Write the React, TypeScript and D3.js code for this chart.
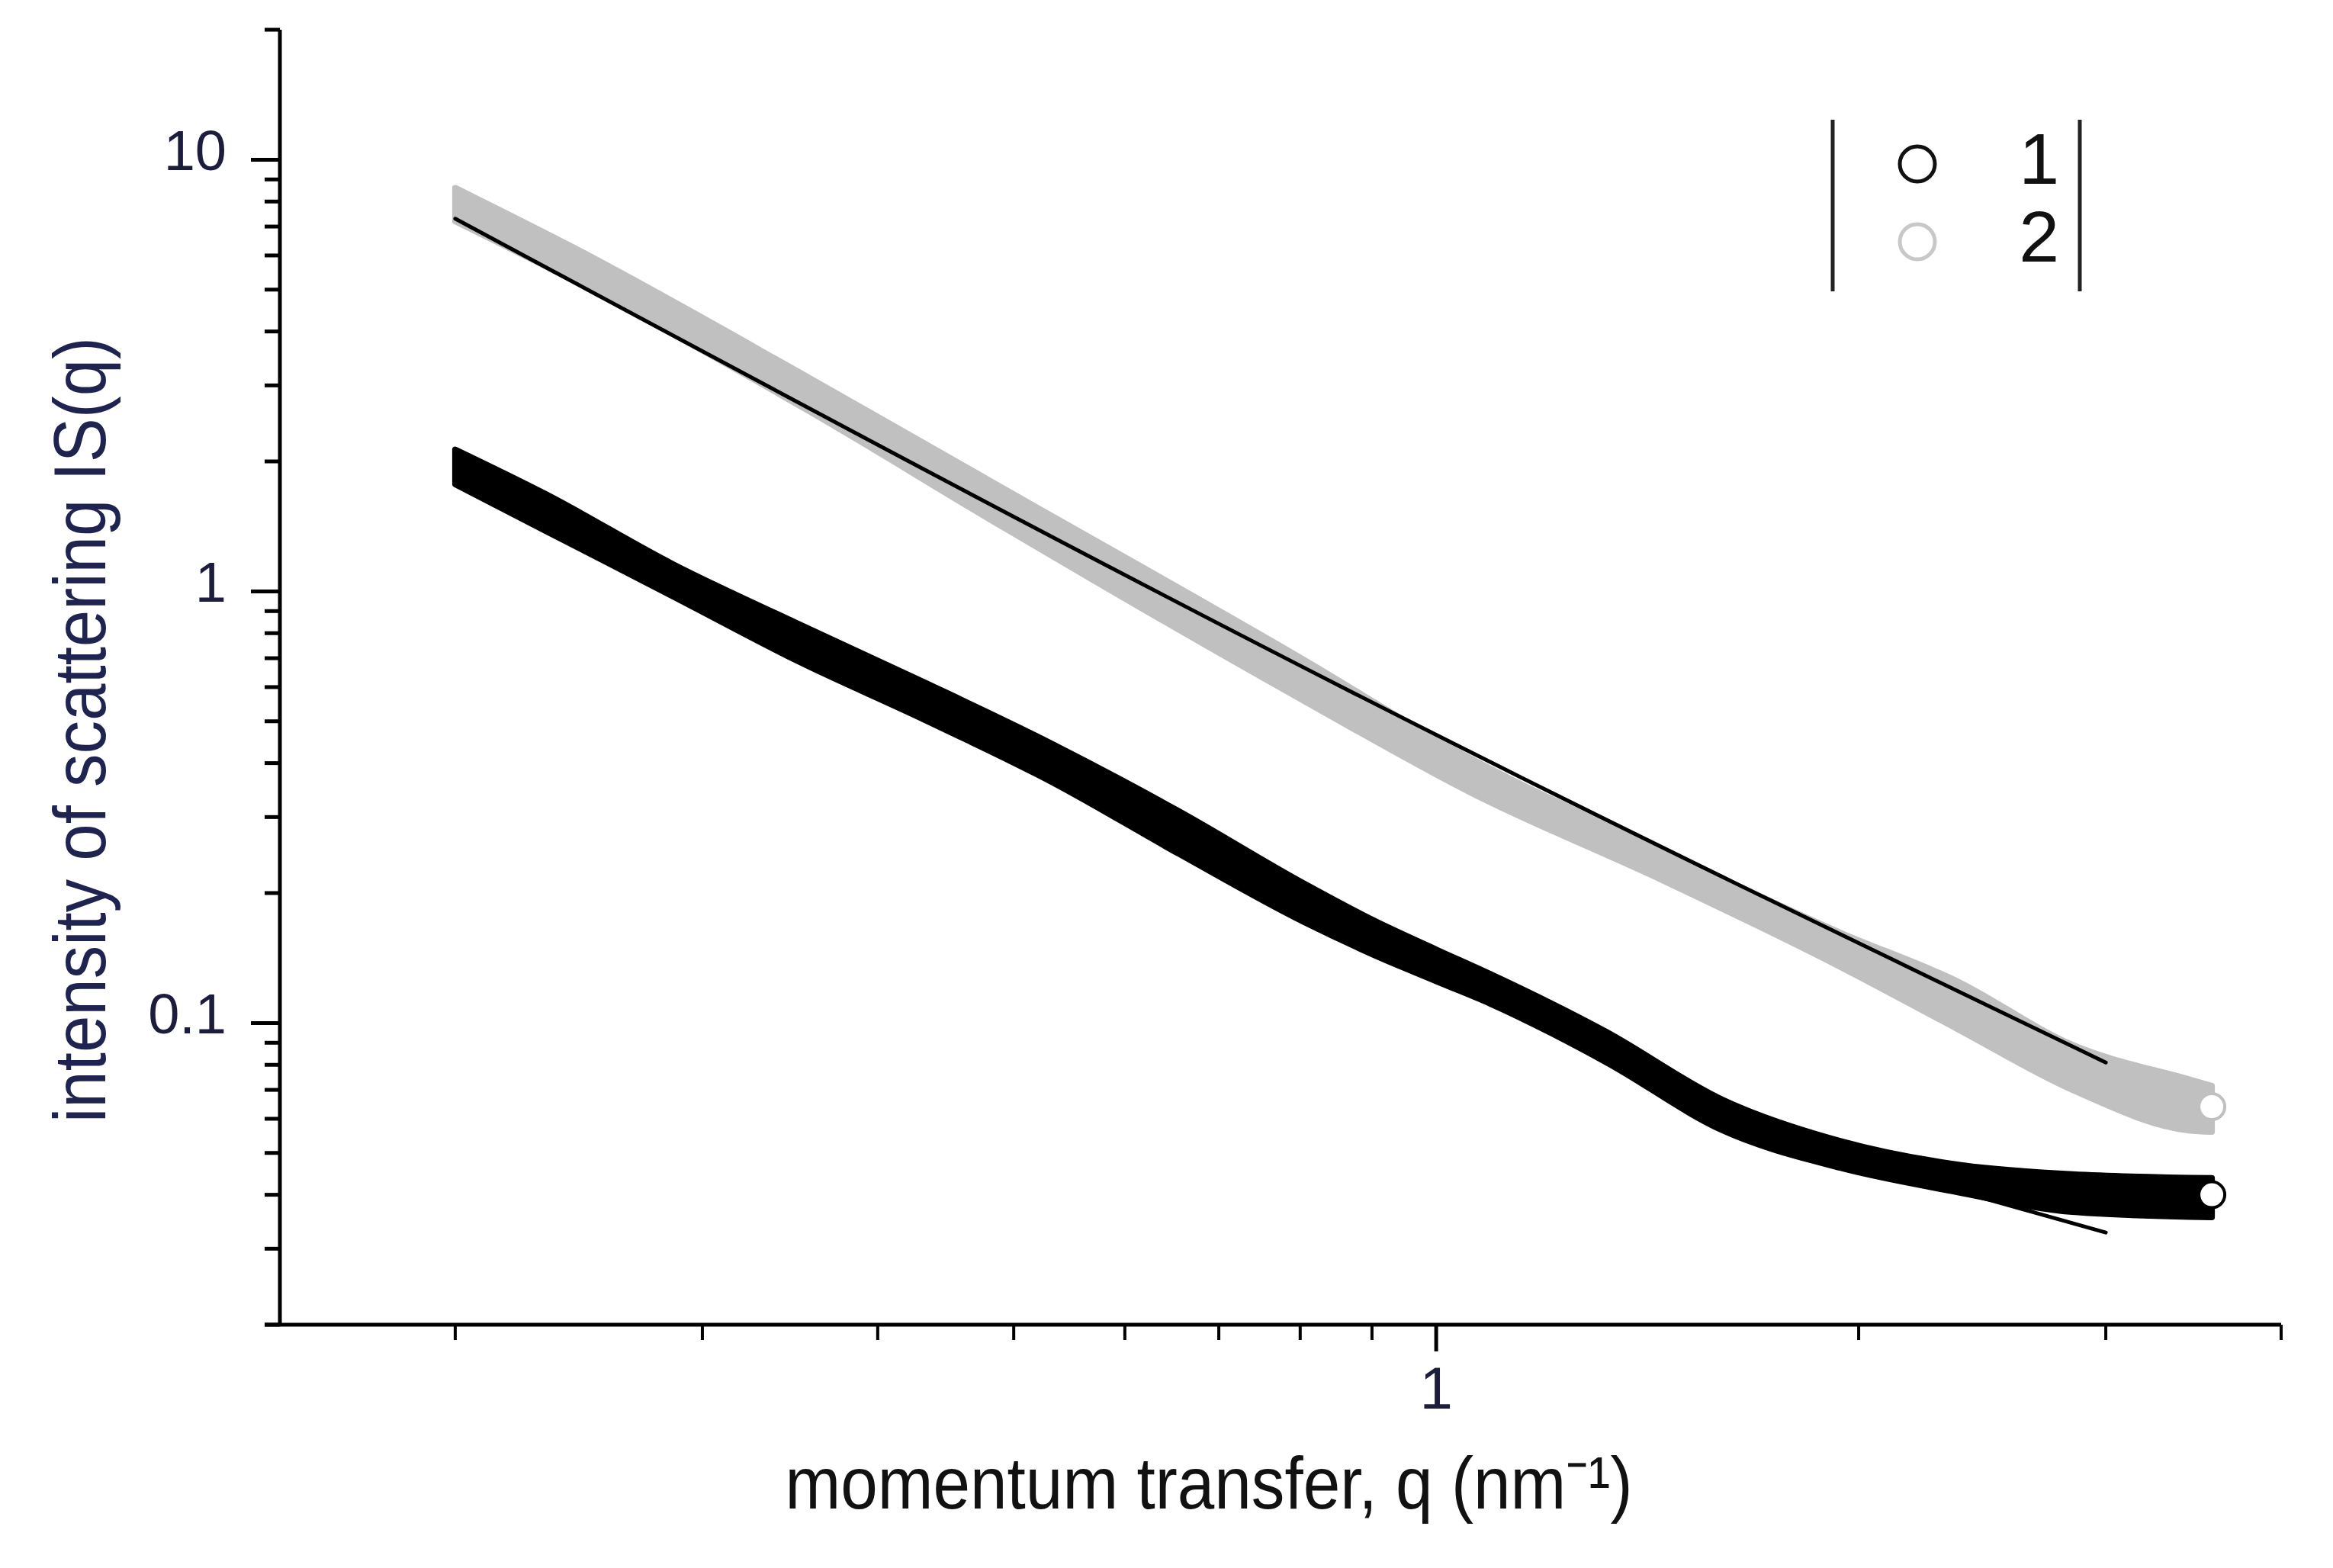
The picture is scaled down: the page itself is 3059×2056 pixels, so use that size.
import React from 'react';
import * as d3 from 'd3';

// series 1 (black): q (nm^-1) and the upper / lower edge of the dense marker band
const q1 = [0.2, 0.232, 0.286, 0.351, 0.432, 0.532, 0.655, 0.806, 0.902, 1.0, 1.092, 1.322, 1.6, 1.94, 2.35, 2.84, 3.57];
const upper1 = [2.13, 1.68, 1.155, 0.841, 0.615, 0.444, 0.31, 0.21, 0.173, 0.148, 0.13, 0.0954, 0.0664, 0.0533, 0.047, 0.0446, 0.0437];
const lower1 = [1.77, 1.38, 0.973, 0.689, 0.504, 0.362, 0.247, 0.171, 0.144, 0.125, 0.111, 0.0811, 0.0564, 0.0462, 0.0406, 0.0365, 0.0355];

// series 2 (grey)
const q2 = [0.2, 0.243, 0.357, 0.491, 0.796, 1.06, 1.455, 1.94, 2.35, 2.84, 3.44, 3.57];
const upper2 = [8.6, 6.25, 3.13, 1.735, 0.709, 0.409, 0.25, 0.162, 0.125, 0.089, 0.074, 0.0715];
const lower2 = [7.2, 5.24, 2.62, 1.41, 0.569, 0.341, 0.213, 0.135, 0.097, 0.07, 0.0564, 0.056];

// last measured point of each series (drawn as an open circle)
const lastQ = [3.57, 3.57];
const lastI = [0.04, 0.064];

// power-law fits
const fitQ1 = [1.6, 3.0];
const fitI1 = [0.058, 0.0327];
const fitQ2 = [0.2, 1.0, 3.0];
const fitI2 = [7.3, 0.465, 0.081];

const yMajor = [0.1, 1, 10];
const yMajorLabels = ['0.1', '1', '10'];
const xMajor = [1];
const xMajorLabels = ['1'];
const legendLabels = ['1', '2'];
const seriesColors = ['#000000', '#c0c0c0'];
const legendColors = ['#111111', '#c8c8c8'];

const W = 3059;
const H = 2056;
const left = 367;
const right = 2991;
const top = 39;
const bottom = 1737;
const font = '"Liberation Sans", Arial, sans-serif';
const labelColor = '#1c1c3c';

export default function App() {
	const x = d3.scaleLog().domain([0.15, 4]).range([left, right]);
	const y = d3.scaleLog().domain([0.02, 20]).range([bottom, top]);

	const yMinor = y.ticks().filter(t => !yMajor.some(m => Math.abs(m - t) < 1e-9));
	const xMinor = x.ticks().filter(t => !xMajor.some(m => Math.abs(m - t) < 1e-9));

	// band of overlapping open circles, drawn as a filled area between its edges
	const band = (q: number[], lo: number[], hi: number[]) =>
		d3
			.area<number>()
			.x(i => x(q[i]))
			.y0(i => y(lo[i]))
			.y1(i => y(hi[i]))
			.curve(d3.curveMonotoneX)(d3.range(q.length)) as string;

	const fitLine = (q: number[], v: number[]) =>
		d3
			.line<number>()
			.x(i => x(q[i]))
			.y(i => y(v[i]))
			.curve(d3.curveMonotoneX)(d3.range(q.length)) as string;

	return (
		<div style={{ position: 'absolute', left: 0, top: 0 }}>
			<svg width={W} height={H} style={{ display: 'block', background: '#fff' }} fontFamily={font}>
				{/* dense scatter bands */}
				<path d={band(q1, lower1, upper1)} fill={seriesColors[0]} stroke={seriesColors[0]} strokeWidth={8} strokeLinejoin="round" />
				<path d={band(q2, lower2, upper2)} fill={seriesColors[1]} stroke={seriesColors[1]} strokeWidth={8} strokeLinejoin="round" />

				{/* fits */}
				<path d={fitLine(fitQ2, fitI2)} fill="none" stroke="#000" strokeWidth={5} strokeLinecap="round" />
				<path d={fitLine(fitQ1, fitI1)} fill="none" stroke="#000" strokeWidth={5} strokeLinecap="round" />

				{/* last points */}
				{lastQ.map((q, i) => (
					<circle key={i} cx={x(q)} cy={y(lastI[i])} r={17} fill="#fff" stroke={seriesColors[i]} strokeWidth={4} />
				))}

				{/* y axis */}
				<line x1={left} x2={left} y1={top} y2={bottom} stroke="#000" strokeWidth={5} />
				{yMinor.map(t => (
					<line key={'ym' + t} x1={left - 20} x2={left} y1={y(t)} y2={y(t)} stroke="#000" strokeWidth={5} />
				))}
				{yMajor.map((t, i) => (
					<g key={'yM' + t}>
						<line x1={left - 38} x2={left} y1={y(t)} y2={y(t)} stroke="#000" strokeWidth={5} />
						<text x={297} y={y(t) + 14} textAnchor="end" fontSize={74} fill={labelColor}>
							{yMajorLabels[i]}
						</text>
					</g>
				))}

				{/* x axis */}
				<line x1={left - 20} x2={right} y1={bottom} y2={bottom} stroke="#000" strokeWidth={5} />
				{xMinor.map(t => (
					<line key={'xm' + t} x1={x(t)} x2={x(t)} y1={bottom} y2={bottom + 20} stroke="#000" strokeWidth={4} />
				))}
				{xMajor.map((t, i) => (
					<g key={'xM' + t}>
						<line x1={x(t)} x2={x(t)} y1={bottom} y2={bottom + 35} stroke="#000" strokeWidth={5} />
						<text x={x(t)} y={1847} textAnchor="middle" fontSize={78} fill={labelColor}>
							{xMajorLabels[i]}
						</text>
					</g>
				))}

				{/* axis titles */}
				<text
					transform="translate(138,957) rotate(-90)"
					textAnchor="middle"
					fontSize={96}
					textLength={1030}
					lengthAdjust="spacingAndGlyphs"
					fill="#1e2350"
				>
					intensity of scattering IS(q)
				</text>
				<text x={1585} y={1978} textAnchor="middle" fontSize={96} textLength={1111} lengthAdjust="spacingAndGlyphs" fill="#111">
					momentum transfer, q (nm⁻¹)
				</text>

				{/* legend */}
				<line x1={2403} x2={2403} y1={157} y2={382} stroke="#222" strokeWidth={5} />
				<line x1={2727} x2={2727} y1={157} y2={382} stroke="#222" strokeWidth={5} />
				{legendLabels.map((l, i) => (
					<g key={l}>
						<circle cx={2514} cy={215 + i * 102} r={23} fill="#fff" stroke={legendColors[i]} strokeWidth={5} />
						<text x={2700} y={241 + i * 102} textAnchor="end" fontSize={95} fill="#111">
							{l}
						</text>
					</g>
				))}
			</svg>
		</div>
	);
}
